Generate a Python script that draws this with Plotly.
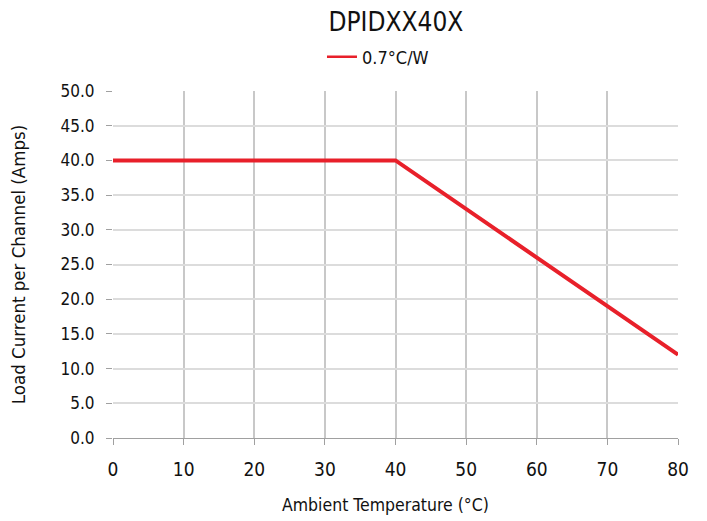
import plotly.graph_objects as go

temps = [0, 40, 80]
current = [40.0, 40.0, 12.0]
series_name = "0.7°C/W"
x_ticks = [0, 10, 20, 30, 40, 50, 60, 70, 80]
y_ticks = [0, 5, 10, 15, 20, 25, 30, 35, 40, 45, 50]
x_title = "Ambient Temperature (°C)"
y_title = "Load Current per Channel (Amps)"
chart_title = "DPIDXX40X"

FONT = "DejaVu Sans Condensed, Liberation Sans Narrow, Roboto, sans-serif"
RED = "#e8202a"

fig = go.Figure()
fig.add_trace(go.Scatter(x=temps, y=current, mode="lines", name=series_name,
                         showlegend=False, line=dict(color=RED, width=4)))
# legend entry with the thinner key line seen in the reference
fig.add_trace(go.Scatter(x=[None], y=[None], mode="lines", name=series_name,
                         showlegend=True, line=dict(color=RED, width=2.5)))

fig.update_layout(
    width=699, height=513,
    margin=dict(l=105, r=29, t=83, b=83),
    paper_bgcolor="white", plot_bgcolor="white",
    font=dict(family=FONT, color="#111111", size=16),
    title=dict(text=chart_title, x=0.555, xanchor="center", y=0.972, yanchor="middle",
               font=dict(size=26, family=FONT, color="#111111")),
    showlegend=True,
    legend=dict(orientation="h", x=0.469, xanchor="center", y=1.098, yanchor="middle",
                font=dict(size=18, family=FONT), itemwidth=30),
    xaxis=dict(range=[0, 80], tickvals=x_ticks, ticktext=[str(v) for v in x_ticks],
               showgrid=True, gridcolor="#c8c8c8", gridwidth=2,
               showline=True, linecolor="#a0a0a0", linewidth=1,
               ticks="outside", ticklen=6, tickcolor="#a0a0a0", automargin=False,
               zeroline=False, tickfont=dict(size=19), ticklabelstandoff=8),
    yaxis=dict(range=[0, 50], tickvals=y_ticks, ticktext=[f"{v:.1f}" for v in y_ticks],
               showgrid=True, gridcolor="#dcdcdc", gridwidth=2,
               showline=False, ticks="outside", ticklen=6, tickcolor="#a0a0a0", automargin=False,
               zeroline=False, tickfont=dict(size=17), ticklabelstandoff=8,
               title=dict(text=y_title, font=dict(size=18.5), standoff=30)),
    annotations=[dict(text=x_title, xref="paper", yref="paper", x=0.483, y=0,
                      xanchor="center", yanchor="middle", yshift=-67, showarrow=False,
                      font=dict(size=17.5, family=FONT, color="#111111"))],
)

fig.write_html("out.html")
